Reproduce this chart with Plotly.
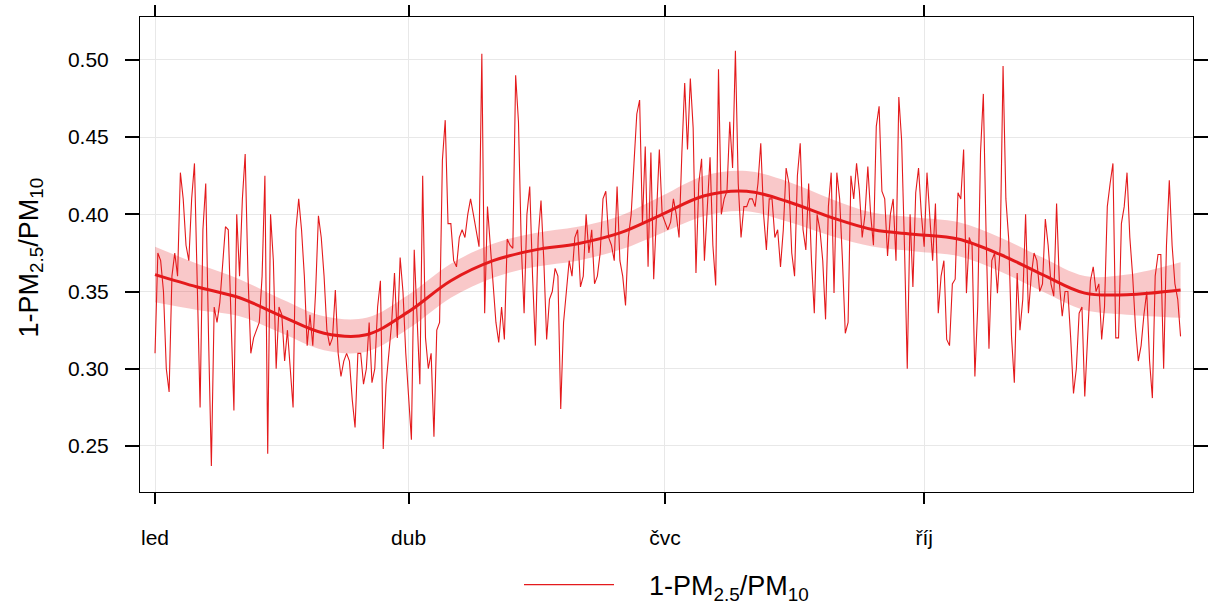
import pandas as pd
import plotly.graph_objects as go

# daily values of 1-PM2.5/PM10 (Jan-Mar, Apr-Jun, Jul-Sep, Oct-Dec)
q1 = [0.31, 0.375, 0.37, 0.35, 0.30, 0.285, 0.36, 0.375, 0.36, 0.427,
      0.41, 0.38, 0.37, 0.41, 0.433, 0.35, 0.275, 0.39, 0.42, 0.32,
      0.237, 0.34, 0.33, 0.343, 0.368, 0.392, 0.39, 0.33, 0.273, 0.40,
      0.36, 0.41, 0.439, 0.36, 0.31, 0.32, 0.325, 0.33, 0.36, 0.425,
      0.245, 0.40, 0.37, 0.30, 0.34, 0.335, 0.305, 0.325, 0.30, 0.275,
      0.39, 0.41, 0.39, 0.36, 0.315, 0.335, 0.315, 0.35, 0.399, 0.385,
      0.36, 0.325, 0.315, 0.32, 0.351, 0.31, 0.295, 0.305, 0.31, 0.305,
      0.28, 0.262, 0.31, 0.31, 0.29, 0.30, 0.33, 0.291, 0.30, 0.34,
      0.357, 0.248, 0.29, 0.31, 0.33, 0.362, 0.32, 0.372, 0.35, 0.31]
q2 = [0.28, 0.254, 0.377, 0.33, 0.29, 0.425, 0.32, 0.30, 0.31, 0.256,
      0.325, 0.33, 0.435, 0.461, 0.394, 0.394, 0.37, 0.366, 0.385, 0.39,
      0.385, 0.40, 0.41, 0.40, 0.39, 0.379, 0.504, 0.336, 0.405, 0.378,
      0.353, 0.33, 0.317, 0.34, 0.319, 0.384, 0.38, 0.378, 0.49, 0.46,
      0.38, 0.336, 0.40, 0.418, 0.36, 0.315, 0.385, 0.409, 0.37, 0.319,
      0.345, 0.35, 0.365, 0.36, 0.274, 0.33, 0.35, 0.37, 0.36, 0.385,
      0.39, 0.353, 0.36, 0.40, 0.375, 0.39, 0.355, 0.36, 0.375, 0.41,
      0.415, 0.385, 0.38, 0.37, 0.418, 0.37, 0.36, 0.341, 0.385, 0.40,
      0.433, 0.465, 0.474, 0.394, 0.444, 0.366, 0.44, 0.358, 0.40, 0.442,
      0.40]
q3 = [0.395, 0.39, 0.395, 0.41, 0.40, 0.385, 0.44, 0.485, 0.442, 0.488,
      0.456, 0.362, 0.42, 0.436, 0.37, 0.405, 0.437, 0.38, 0.354, 0.494,
      0.40, 0.41, 0.415, 0.46, 0.43, 0.506, 0.42, 0.385, 0.405, 0.405,
      0.41, 0.41, 0.405, 0.42, 0.446, 0.40, 0.377, 0.41, 0.41, 0.385,
      0.39, 0.366, 0.39, 0.43, 0.42, 0.375, 0.36, 0.425, 0.446, 0.39,
      0.377, 0.42, 0.37, 0.336, 0.40, 0.39, 0.37, 0.332, 0.405, 0.427,
      0.349, 0.427, 0.41, 0.37, 0.323, 0.33, 0.425, 0.41, 0.433, 0.415,
      0.385, 0.40, 0.431, 0.40, 0.38, 0.457, 0.47, 0.415, 0.41, 0.373,
      0.40, 0.41, 0.37, 0.476, 0.448, 0.38, 0.30, 0.40, 0.353, 0.414,
      0.43, 0.40]
q4 = [0.379, 0.427, 0.40, 0.37, 0.407, 0.336, 0.36, 0.37, 0.319, 0.315,
      0.355, 0.358, 0.414, 0.41, 0.442, 0.349, 0.385, 0.38, 0.295, 0.34,
      0.44, 0.478, 0.385, 0.313, 0.37, 0.375, 0.349, 0.38, 0.496, 0.41,
      0.384, 0.321, 0.291, 0.362, 0.325, 0.345, 0.40, 0.336, 0.36, 0.375,
      0.37, 0.35, 0.355, 0.397, 0.38, 0.355, 0.347, 0.407, 0.355, 0.334,
      0.35, 0.35, 0.32, 0.284, 0.30, 0.336, 0.34, 0.282, 0.32, 0.357,
      0.366, 0.35, 0.355, 0.319, 0.34, 0.405, 0.42, 0.433, 0.32, 0.32,
      0.394, 0.405, 0.427, 0.385, 0.36, 0.327, 0.305, 0.315, 0.335, 0.35,
      0.305, 0.281, 0.36, 0.374, 0.374, 0.30, 0.38, 0.422, 0.38, 0.355,
      0.345, 0.321]

# smooth trend (knot day-of-year, fitted value, half-width of 95% band)
smooth_day = [0, 15, 30, 45, 60, 75, 90, 105, 120, 135, 150, 165, 180,
              195, 210, 225, 240, 255, 270, 285, 300, 315, 330, 345, 364]
smooth_val = [0.361, 0.353, 0.346, 0.334, 0.323, 0.322, 0.337, 0.357, 0.370,
              0.377, 0.381, 0.388, 0.400, 0.412, 0.415, 0.408, 0.398, 0.390,
              0.387, 0.384, 0.374, 0.361, 0.349, 0.348, 0.351]
smooth_ci = [0.018, 0.015, 0.012, 0.011, 0.011, 0.011, 0.011, 0.011, 0.011,
             0.011, 0.011, 0.011, 0.012, 0.013, 0.013, 0.013, 0.012, 0.011,
             0.011, 0.011, 0.011, 0.011, 0.011, 0.013, 0.018]

tick_dates = ["2019-01-01", "2019-04-01", "2019-07-01", "2019-10-01"]
tick_text = ["led", "dub", "čvc", "říj"]
y_ticks = [0.25, 0.30, 0.35, 0.40, 0.45, 0.50]

values = q1 + q2 + q3 + q4
dates = pd.date_range("2019-01-01", periods=len(values), freq="D")
s_dates = pd.Timestamp("2019-01-01") + pd.to_timedelta(smooth_day, unit="D")
upper = [v + c for v, c in zip(smooth_val, smooth_ci)]
lower = [v - c for v, c in zip(smooth_val, smooth_ci)]

RED = "#E41A1C"
label = "1-PM<sub>2.5</sub>/PM<sub>10</sub>"

fig = go.Figure()
fig.add_trace(go.Scatter(x=s_dates, y=lower, mode="lines", line=dict(width=0, shape="spline"),
                         showlegend=False, hoverinfo="skip"))
fig.add_trace(go.Scatter(x=s_dates, y=upper, mode="lines", line=dict(width=0, shape="spline"),
                         fill="tonexty", fillcolor="rgba(228,26,28,0.24)",
                         showlegend=False, hoverinfo="skip"))
fig.add_trace(go.Scatter(x=dates, y=values, mode="lines",
                         name="\u00a0\u00a0\u00a0\u00a0" + label,
                         line=dict(color=RED, width=1.1)))
fig.add_trace(go.Scatter(x=s_dates, y=smooth_val, mode="lines",
                         line=dict(color=RED, width=3, shape="spline"), showlegend=False))

FONT = "Liberation Sans, Arial, sans-serif"
fig.update_layout(
    width=1211, height=607,
    margin=dict(l=140, r=18, t=17, b=115, autoexpand=False),
    paper_bgcolor="white", plot_bgcolor="white",
    font=dict(family=FONT, color="black", size=21),
    showlegend=True,
    legend=dict(orientation="h", x=0.5, xanchor="center", xref="paper",
                y=-0.196, yanchor="middle", font=dict(size=27), itemwidth=90),
    annotations=[dict(text=label, textangle=-90, xref="paper", yref="paper",
                      x=0, y=0.5, xanchor="center", yanchor="middle",
                      xshift=-110, yshift=-3, showarrow=False,
                      font=dict(size=27, family=FONT, color="black"))],
)
fig.update_xaxes(
    range=[pd.Timestamp("2018-12-26 16:00"), pd.Timestamp("2020-01-04 10:00")],
    tickvals=pd.to_datetime(tick_dates), ticktext=tick_text,
    showline=True, linecolor="black", linewidth=1, mirror="allticks",
    ticks="outside", ticklen=11, tickwidth=1.5, tickcolor="black",
    showgrid=True, gridcolor="#e8e8e8", gridwidth=1, zeroline=False,
    ticklabelstandoff=16,
)
fig.update_yaxes(
    range=[0.2202, 0.5278], tickvals=y_ticks, tickformat=".2f",
    showline=True, linecolor="black", linewidth=1, mirror="allticks",
    ticks="outside", ticklen=14, tickwidth=1.5, tickcolor="black",
    showgrid=True, gridcolor="#e8e8e8", gridwidth=1, zeroline=False,
    ticklabelstandoff=12,
)
fig.write_html("out.html")
